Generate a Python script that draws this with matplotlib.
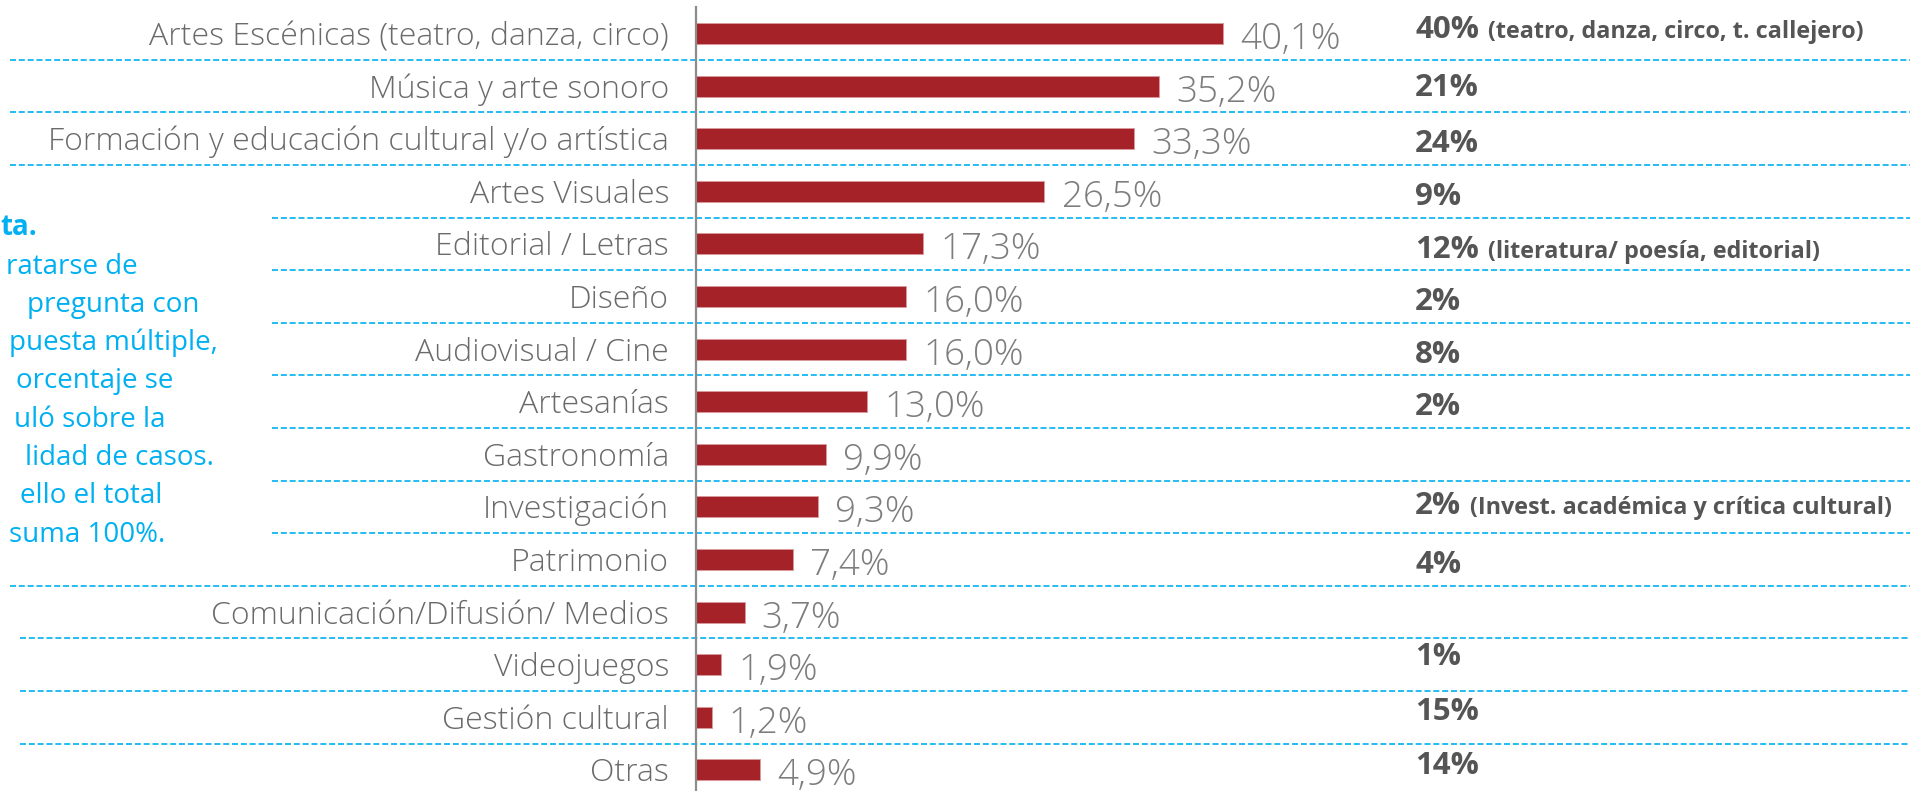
import matplotlib
matplotlib.use('Agg')
import matplotlib.pyplot as plt

# data
categories = ["Artes Escénicas (teatro, danza, circo)", "Música y arte sonoro",
              "Formación y educación cultural y/o artística", "Artes Visuales",
              "Editorial / Letras", "Diseño", "Audiovisual / Cine", "Artesanías",
              "Gastronomía", "Investigación", "Patrimonio",
              "Comunicación/Difusión/ Medios", "Videojuegos", "Gestión cultural", "Otras"]
values = [40.1, 35.2, 33.3, 26.5, 17.3, 16.0, 16.0, 13.0, 9.9, 9.3, 7.4, 3.7, 1.9, 1.2, 4.9]
ref_pct = ["40%", "21%", "24%", "9%", "12%", "2%", "8%", "2%", "", "2%", "4%", "", "1%", "15%", "14%"]
ref_detail = ["(teatro, danza, circo, t. callejero)", "", "", "", "(literatura/ poesía, editorial)",
              "", "", "", "", "(Invest. académica y crítica cultural)", "", "", "", "", ""]
# the note is cut by the left edge in the reference, only these parts show
note_lines = ["ta.", "ratarse de", "pregunta con", "puesta múltiple,",
              "orcentaje se", "uló sobre la", "lidad de casos.",
              "ello el total", "suma 100%."]

# layout (pixels of the 1914x791 canvas)
W, H = 1914, 791
x0_px = 696          # x of the zero line
px_per_pct = 13.15
y0_px = 33.5         # centre of first row
row_px = 52.6

RED = '#A52228'
CYAN = '#00B0F0'
LABEL_GRAY = '#6a6a6a'
VALUE_GRAY = '#7d7d7d'
DARK = '#555555'
FONT = 'Open Sans'

fig = plt.figure(figsize=(W / 100, H / 100), dpi=100)
ax = fig.add_axes([0, 0, 1, 1])
ax.set_xlim(-x0_px / px_per_pct, (W - x0_px) / px_per_pct)
ax.set_ylim((H - y0_px) / row_px, -y0_px / row_px)
ax.axis('off')

def px2x(px):
	return (px - x0_px) / px_per_pct

n = len(categories)
ypos = list(range(n))

# bars
ax.barh(ypos, values, height=0.40, color=RED, edgecolor='#d99a9d', linewidth=0.7, zorder=3)

# zero line
ax.plot([0, 0], [(H - y0_px) / row_px, (7 - y0_px) / row_px], color='#8c8c8c', lw=1.6, zorder=4)

# dashed separators
line_start = [10, 10, 10, 272, 272, 272, 272, 272, 272, 272, 10, 20, 20, 20]
for i in range(n - 1):
	ax.plot([px2x(line_start[i]), px2x(1910)], [i + 0.5, i + 0.5], color=CYAN, lw=1.2,
			linestyle=(0, (3.6, 1.7)), zorder=2)

# category labels and value labels
for i in range(n):
	ax.text(-2.05, i + 0.22, categories[i], ha='right', va='baseline', fontsize=23,
			color=LABEL_GRAY, family=FONT, fontweight=300)
	ax.text(values[i] + 1.3, i + 0.295, ('%.1f%%' % values[i]).replace('.', ','), ha='left',
			va='baseline', fontsize=26.5, color=VALUE_GRAY, family=FONT, fontweight=300)

# reference column on the right (the text boxes sit a little off the rows)
ref_nudge = [-6, -1, 3, 3, 4, 3, 3, 3, 0, -3, 2.5, 0, -10, -8, -6]
fig.canvas.draw()
renderer = fig.canvas.get_renderer()
for i in range(n):
	if ref_pct[i] == "":
		continue
	yb = i + (ref_nudge[i] + 10.5) / row_px
	t = ax.text(px2x(1415), yb, ref_pct[i], ha='left', va='baseline', fontsize=22.5,
				color=DARK, family=FONT, fontweight='bold')
	if ref_detail[i]:
		bb = t.get_window_extent(renderer=renderer)
		xe = ax.transData.inverted().transform((bb.x1 + 9, 0))[0]
		ax.text(xe, yb, ref_detail[i], ha='left', va='baseline', fontsize=16.8,
				color=DARK, family=FONT, fontweight='bold')

# note on the left
note_right = [37, 138, 199, 218, 173, 166, 214, 162, 165]
note_base = [235, 274, 312, 350, 388, 427, 465, 503, 542]
for k, line in enumerate(note_lines):
	fig.text(note_right[k] / W, 1 - note_base[k] / H, line, ha='right', va='baseline',
			 fontsize=20, color=CYAN, family=FONT, fontweight='bold' if k == 0 else 'normal')

plt.savefig('out.png', dpi=100)
